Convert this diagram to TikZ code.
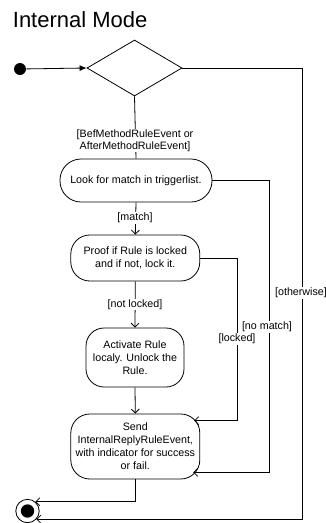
\documentclass[tikz,border=0pt]{standalone}
\usepackage{fontspec}
\setmainfont{Liberation Sans}
\usetikzlibrary{shapes.geometric,arrows.meta,calc}
\begin{document}
\begin{tikzpicture}[x=1pt,y=-1pt,
  line width=0.8pt,
  actbox/.style={draw,rounded corners=19pt,align=center,inner sep=0pt,
    font=\fontsize{10.7}{13}\selectfont},
  guard/.style={fill=white,inner sep=1pt,align=center,
    font=\fontsize{10.7}{11.5}\selectfont},
  flow/.style={-{Straight Barb[length=4pt,width=8pt]}},
]
\useasboundingbox (0,0) rectangle (326,523);

% title
\node[anchor=base west,inner sep=0,font=\fontsize{22}{24}\selectfont] (title) at (12.5,27.5) {Internal Mode};

% initial node, decision and actions
\node[circle,fill,minimum size=12pt,inner sep=0] (init) at (20,69) {};
\node[diamond,draw,minimum width=95pt,minimum height=56pt,inner sep=0] (dec) at (134.5,68) {};
\node[actbox,minimum width=152pt,minimum height=43pt,rounded corners=21pt] (look) at (136,180.5)
  {Look for match in triggerlist.};
\node[actbox,minimum width=129pt,minimum height=46pt] (proof) at (135.3,258)
  {Proof if Rule is locked\\and if not, lock it.};
\node[actbox,minimum width=98pt,minimum height=59pt,rounded corners=18pt] (activate) at (135,357.5)
  {Activate Rule\\localy. Unlock the\\Rule.};
\node[actbox,minimum width=129pt,minimum height=65pt] (send) at (135.3,446.5)
  {Send\\InternalReplyRuleEvent,\\with indicator for success\\or fail.};

% final node
\node[circle,draw,minimum size=23.4pt,inner sep=0] (final) at (27.5,511) {};
\node[circle,fill,minimum size=13.4pt,inner sep=0] (finaldot) at (final) {};

% columns of the side branches and their entry points
\coordinate (lockx) at (237,0);
\coordinate (nomatchx) at (269,0);
\coordinate (otherx) at (302,0);
\coordinate (sendA) at ($(send.north east)+(-6,7)$);
\coordinate (sendB) at ($(send.south east)+(-7,-7)$);

% transitions
\draw[-{Latex[length=7pt,width=6pt]}] (init) -- (dec.west);
\draw (dec.south) -- (look.north);
\draw[flow] (look.south) -- (proof.north);
\draw[flow] (proof.south) -- (activate.north);
\draw[flow] (activate.south) -- (send.north);
\draw[flow] (proof.east) -- (proof.east -| lockx) |- (sendA);
\draw[flow] (look.east) -- (look.east -| nomatchx) |- (sendB);
\draw[flow] (send.south) |- (final.50);
\draw[flow] (dec.east) -- (dec.east -| otherx) |- (final.-43);

% guards
\node[guard] (gevent) at (135,140.5) {[BefMethodRuleEvent or\\AfterMethodRuleEvent]};
\node[guard] (gmatch) at (135,218) {[match]};
\node[guard] (gnotlocked) at (135,304.5) {[not locked]};
\node[guard] (glocked) at (237,339) {[locked]};
\node[guard] (gnomatch) at (267,327) {[no match]};
\node[guard] (gother) at (301,293) {[otherwise]};
\end{tikzpicture}
\end{document}
